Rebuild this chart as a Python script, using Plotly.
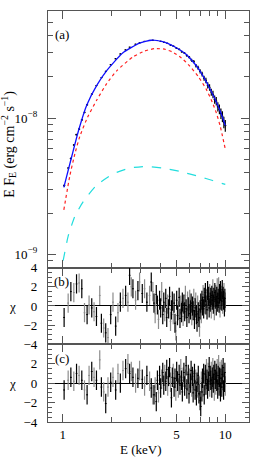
import plotly.graph_objects as go

# ---------------- data ----------------
# model curves, E F_E in units of 1e-9 erg cm^-2 s^-1
model_E = [1.014, 1.136, 1.254, 1.404, 1.617, 1.862, 2.334, 2.966, 3.51, 4.11, 4.66, 5.21,
           5.76, 6.27, 6.92, 7.63, 8.19, 8.81, 9.45, 10.0]
model_total = [3.10, 5.27, 8.24, 12.47, 17.38, 22.3, 30.0, 35.4, 37.2, 36.3, 34.3, 31.8,
               29.2, 26.2, 22.6, 18.5, 15.7, 13.1, 10.7, 8.8]

red_E = [1.014, 1.104, 1.185, 1.271, 1.423, 1.617, 1.862, 2.144, 2.689, 3.185, 3.670, 4.225,
         4.73, 5.37, 6.01, 6.83, 7.63, 8.31, 8.81, 9.32, 10.0]
red_flux = [2.12, 3.78, 5.45, 7.33, 10.2, 13.55, 17.9, 22.2, 28.0, 31.0, 32.3, 32.0,
            30.5, 27.6, 24.2, 20.1, 16.3, 13.1, 10.9, 8.66, 5.91]

cyan_E = [1.004, 1.078, 1.185, 1.332, 1.61, 2.036, 2.58, 3.26, 4.12, 5.21, 6.92, 8.36, 10.0]
cyan_flux = [0.90, 1.36, 1.90, 2.43, 3.21, 3.89, 4.30, 4.42, 4.30, 4.07, 3.72, 3.48, 3.26]

data_E = [1.02, 1.08, 1.12, 1.17, 1.21, 1.26, 1.31, 1.36, 1.41, 1.51, 1.61, 1.73, 1.84, 1.97,
          2.11, 2.26, 2.43, 2.58, 2.80, 2.97, 3.18, 3.42, 3.58, 3.80, 4.00, 4.20, 4.40, 4.60,
          4.80, 5.00, 5.20, 5.40, 5.60, 5.80, 6.00, 6.20, 6.40, 6.60, 6.80, 7.00, 7.20, 7.40,
          7.60, 7.80, 8.00, 8.20, 8.40, 8.60, 8.80, 9.00, 9.20, 9.40, 9.60, 9.80, 10.00]
data_flux = [3.20, 4.30, 5.05, 6.35, 7.55, 8.30, 9.70, 11.0, 12.5, 15.0, 17.3, 19.8, 22.0, 24.6,
             27.2, 29.5, 31.6, 33.1, 34.8, 35.6, 36.5, 37.1, 37.2, 37.0, 36.5, 35.9, 35.3, 34.3,
             33.6, 32.6, 31.9, 30.6, 30.0, 28.7, 27.9, 26.5, 25.9, 24.2, 23.4, 22.0, 21.0, 19.6,
             18.9, 17.4, 16.8, 15.5, 14.9, 13.7, 13.3, 12.1, 11.6, 10.8, 10.3, 9.3, 8.8]
data_err = [0.07, 0.08, 0.09, 0.10, 0.11, 0.12, 0.13, 0.14, 0.15, 0.16, 0.17, 0.18, 0.19, 0.20,
            0.21, 0.22, 0.23, 0.24, 0.25, 0.26, 0.27, 0.28, 0.29, 0.30, 0.32, 0.35, 0.38, 0.40,
            0.42, 0.45, 0.50, 0.52, 0.55, 0.60, 0.62, 0.66, 0.70, 0.72, 0.76, 0.80, 0.82, 0.85,
            0.88, 0.90, 0.92, 0.93, 0.94, 0.95, 0.95, 0.95, 0.95, 0.94, 0.93, 0.90, 0.88]

# residual energies (keV)
res_E = [1.018, 1.078, 1.120, 1.168, 1.214, 1.259, 1.308, 1.359, 1.410, 1.450, 1.506, 1.556,
         1.610, 1.687, 1.727, 1.784, 1.836, 1.896, 1.970, 2.035, 2.114, 2.184, 2.259, 2.344,
         2.435, 2.515, 2.576, 2.639, 2.700, 2.804, 2.897, 2.967, 3.083, 3.185, 3.290, 3.419,
         3.502, 3.581,
         3.64, 3.70, 3.76, 3.82, 3.88, 3.94, 4.00, 4.06, 4.12, 4.18,
         4.24, 4.30, 4.36, 4.42, 4.48, 4.54, 4.60, 4.66, 4.72, 4.78, 4.84,
         4.90, 4.96, 5.02, 5.08, 5.14, 5.20, 5.26, 5.32, 5.38, 5.44, 5.50,
         5.56, 5.62, 5.68, 5.74, 5.80, 5.86, 5.92, 5.98, 6.04, 6.10, 6.16,
         6.22, 6.28, 6.34, 6.40, 6.46, 6.52, 6.58, 6.64, 6.70, 6.76, 6.82,
         6.88, 6.94, 7.00, 7.06, 7.12, 7.18, 7.24, 7.30, 7.36, 7.42, 7.48,
         7.54, 7.60, 7.66, 7.72, 7.78, 7.84, 7.90, 7.96, 8.02, 8.08, 8.14,
         8.20, 8.26, 8.32, 8.38, 8.44, 8.50, 8.56, 8.62, 8.68, 8.74, 8.80,
         8.86, 8.92, 8.98, 9.04, 9.10, 9.16, 9.22, 9.28, 9.34, 9.40, 9.46,
         9.52, 9.58, 9.64, 9.70, 9.76, 9.82, 9.88, 9.94, 10.00]
n_sparse = 38

chi_b = [-1.2, 0.3, 1.5, 1.4, 2.3, 2.4, 1.8, -0.7, -0.9, 0.1, -0.2, -0.6, -1.1, 1.1, -1.8, -2.3,
         -2.8, -3.3, -0.9, 0.4, -2.1, -0.7, 0.4, 0.8, 1.1, 0.4, 3.2, 2.0, 1.8, 0.6, 1.6, 2.5,
         1.3, 1.8, 0.4, 1.1, 2.5, 1.5,
         0.3, -0.8, 1.2, 0.1, -1.4, 0.6, -0.2, 1.5, -0.9, 0.4,
         -0.6, 0.8, -1.2, 0.2, -0.3, 1.0, -1.6, -0.4, 0.5, -0.9, 0.3,
         -1.8, -2.6, 0.6, -1.0, -0.5, 0.9, -1.3, 0.1, -0.7, 0.4, -1.1,
         0.2, -0.6, 1.1, -0.3, -1.2, 0.5, -0.1, -0.8, 0.7, -0.4, 0.3,
         -1.0, 0.0, -0.5, 0.8, -1.4, -0.2, 0.4, -0.9, -1.7, 0.1, -0.6,
         -1.2, -2.2, -0.4, 0.3, -0.8, 0.6, 0.0, 1.2, -0.3, 0.9, 0.2,
         1.4, 0.1, 0.8, -0.4, 1.6, 0.5, 1.0, -0.2, 1.3, 0.4, 0.9,
         -0.3, 1.1, 0.6, 1.8, 0.2, 0.9, -0.5, 1.4, 0.7, 1.2, 0.0,
         1.0, 1.9, 0.4, 0.8, 2.0, 0.3, 1.3, -0.2, 1.6, 0.6, 1.1,
         0.5, 1.7, 0.2, 1.0, 0.6, 1.4, -0.1, 0.8, 0.4]

chi_c = [-0.7, 0.3, 0.6, 0.2, 1.0, 0.8, 0.3, -0.7, -1.2, 0.8, 1.2, 0.6, 0.3, 2.4, -0.4, -0.9,
         -2.1, -0.4, 0.1, 0.6, -0.7, 1.0, 0.0, 1.3, 1.5, 2.0, 1.0, 1.2, 0.6, 0.0, 0.5, 1.3,
         0.4, -0.3, 0.8, 0.2, -0.5, -1.2,
         -1.2, -0.4, -1.9, 0.3, -1.0, 0.8, -0.5, 0.4, 1.1, -0.2,
         0.9, 0.2, 1.4, -0.3, 0.7, 1.6, 0.1, -1.5, 0.6, 1.0, -0.4,
         0.5, -0.8, 1.2, 0.2, -0.5, 0.9, -0.2, 1.5, 0.3, -0.9, 0.6,
         1.1, -0.3, 0.4, 1.8, -0.6, 0.2, 0.9, -1.1, 0.5, 0.0, 1.3,
         -0.4, 0.7, -1.0, 0.3, 1.0, -0.7, 0.4, -1.3, 0.1, -0.5, 0.8,
         -1.1, -0.3, -1.8, -2.4, 0.2, -0.9, 0.5, -0.4, 1.0, -1.2, 0.3,
         0.9, -0.2, 1.5, 0.4, -0.6, 1.1, 0.2, 1.7, -0.4, 0.8, 0.3,
         1.2, -0.5, 0.6, 1.6, 0.0, 0.9, -0.8, 1.3, 0.4, -0.2, 1.0,
         0.2, 1.5, -0.6, 0.8, 1.9, -0.3, 0.6, 1.2, -0.9, 0.5, 1.4,
         -0.4, 0.9, 0.3, 1.6, -0.7, 0.7, 0.1, 1.1, -0.3]

x_major = [1, 5, 10]
x_minor = [2, 3, 4, 6, 7, 8, 9]
y_major = [1e-9, 1e-8]
y_major_text = ["10<sup>\u22129</sup>", "10<sup>\u22128</sup>"]
y_minor = [9e-10, 2e-9, 3e-9, 4e-9, 5e-9, 6e-9, 7e-9, 8e-9, 9e-9, 2e-8, 3e-8, 4e-8, 5e-8, 6e-8]

# ---------------- figure ----------------
SCALE = 1e-9
FONT = "Liberation Serif"
FRAME = "#555555"
GRAY = "#8c8c8c"

fig = go.Figure()

fig.add_trace(go.Scatter(x=red_E, y=[v * SCALE for v in red_flux], mode="lines",
                         line=dict(color="#ff2020", width=1.2, dash="dot", shape="spline",
                                   smoothing=0.5), xaxis="x", yaxis="y"))
fig.add_trace(go.Scatter(x=cyan_E, y=[v * SCALE for v in cyan_flux], mode="lines",
                         line=dict(color="#22dddd", width=1.2, dash="dash", shape="spline",
                                   smoothing=0.5), xaxis="x", yaxis="y"))
fig.add_trace(go.Scatter(x=data_E, y=[v * SCALE for v in data_flux], mode="markers",
                         marker=dict(size=1, color="black"),
                         error_y=dict(type="data", array=[v * SCALE for v in data_err],
                                      color="black", thickness=1.2, width=0),
                         error_x=dict(type="percent", value=1.5, color="black", thickness=1, width=0),
                         xaxis="x", yaxis="y"))
fig.add_trace(go.Scatter(x=model_E, y=[v * SCALE for v in model_total], mode="lines",
                         line=dict(color="#1010ff", width=1.3, shape="spline", smoothing=0.5),
                         xaxis="x", yaxis="y"))

# colour of each residual bar: alternating in the sparse part, mostly black in the dense part
res_color = []
for i in range(len(res_E)):
    if i < n_sparse:
        res_color.append(GRAY if i % 2 else "#000000")
    else:
        res_color.append(GRAY if i % 3 == 0 else "#000000")

for chi, ya, xa in ((chi_b, "y2", "x2"), (chi_c, "y3", "x3")):
    for col in (GRAY, "#000000"):
        idx = [i for i in range(len(res_E)) if res_color[i] == col]
        fig.add_trace(go.Scatter(x=[res_E[i] for i in idx], y=[chi[i] for i in idx],
                                 mode="markers", marker=dict(size=1, color=col),
                                 error_y=dict(type="data", array=[1.0] * len(idx), color=col,
                                              thickness=1.2, width=0),
                                 error_x=dict(type="percent", value=1.2, color=col,
                                              thickness=1, width=0),
                                 xaxis=xa, yaxis=ya))

xr = [-0.0915, 1.146]
common_x = dict(type="log", range=xr, showline=True, linecolor=FRAME, linewidth=1.2,
                mirror="allticks", ticks="inside", ticklen=8, tickcolor=FRAME, tickwidth=1,
                tickvals=x_major, ticktext=["1", "5", "10"], showgrid=False, zeroline=False,
                minor=dict(tickvals=x_minor, ticks="inside", ticklen=5, tickcolor=FRAME,
                           tickwidth=1, showgrid=False),
                tickfont=dict(family=FONT, size=13, color="black"))

d_c = [0.0, 0.189]
d_b = [0.189, 0.3756]
d_a = [0.3756, 1.0]

ytick_common = dict(showline=True, linecolor=FRAME, linewidth=1.2, mirror="allticks",
                    ticks="inside", tickcolor=FRAME, showgrid=False, ticklabelstandoff=7,
                    tickfont=dict(family=FONT, size=13, color="black"))

fig.update_layout(
    width=254, height=458,
    margin=dict(l=48, r=4, t=4, b=36),
    paper_bgcolor="white", plot_bgcolor="white",
    showlegend=False,
    xaxis=dict(common_x, anchor="y", showticklabels=False),
    xaxis2=dict(common_x, anchor="y2", showticklabels=False, matches="x"),
    xaxis3=dict(common_x, anchor="y3", showticklabels=True, matches="x"),
    yaxis=dict(ytick_common, type="log", domain=d_a, anchor="x", range=[-9.097, -7.215],
               ticklen=8, tickvals=y_major, ticktext=y_major_text, zeroline=False,
               minor=dict(tickvals=y_minor, ticks="inside", ticklen=5, tickcolor=FRAME)),
    yaxis2=dict(ytick_common, domain=d_b, anchor="x2", range=[-4, 4], ticklen=7,
                tickvals=[-4, -2, 0, 2, 4], ticktext=["\u22124", "\u22122", "0", "2", "4"],
                minor=dict(dtick=0.5, ticks="inside", ticklen=4, tickcolor=FRAME),
                zeroline=True, zerolinecolor="black", zerolinewidth=1),
    yaxis3=dict(ytick_common, domain=d_c, anchor="x3", range=[-4, 4], ticklen=7,
                tickvals=[-4, -2, 0, 2, 4], ticktext=["\u22124", "\u22122", "0", "2", " "],
                minor=dict(dtick=0.5, ticks="inside", ticklen=4, tickcolor=FRAME),
                zeroline=True, zerolinecolor="black", zerolinewidth=1),
)

ann_font = dict(family=FONT, size=13, color="black")
annotations = [
    dict(text="(a)", x=0.069, y=0.943),
    dict(text="(b)", x=0.069, y=0.342),
    dict(text="(c)", x=0.069, y=0.1555),
    dict(text="\u03c7", x=-0.178, y=0.282),
    dict(text="\u03c7", x=-0.178, y=0.0933),
    dict(text="E (keV)", x=0.465, y=-0.066),
]
for a in annotations:
    fig.add_annotation(xref="paper", yref="paper", showarrow=False, font=ann_font,
                       xanchor="center", yanchor="middle", **a)
fig.add_annotation(xref="paper", yref="paper", x=-0.198, y=0.675, showarrow=False,
                   text="E F<sub>E</sub> (erg cm<sup>\u22122</sup> s<sup>\u22121</sup>)",
                   textangle=-90, font=dict(family=FONT, size=14, color="black"),
                   xanchor="center", yanchor="middle")

fig.write_html("out.html", config={"displayModeBar": False},
               post_script="document.body.style.margin='0px';document.body.style.overflow='hidden';")
